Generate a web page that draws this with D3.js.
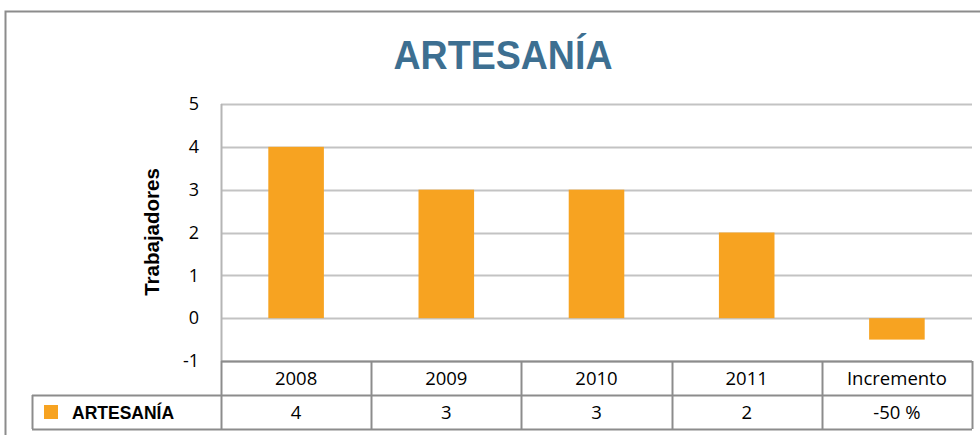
<!DOCTYPE html>
<html>
<head>
<meta charset="utf-8">
<script src="https://cdn.jsdelivr.net/npm/d3@7"></script>
<style>
  body { margin: 0; background: #fff; }
  svg { display: block; }
</style>
</head>
<body>
<svg id="chart" width="980" height="435"></svg>
<script>
"use strict";

// Datos
const categories = ["2008", "2009", "2010", "2011", "Incremento"];
const values = [4, 3, 3, 2, -0.5];
const tableLabels = ["4", "3", "3", "2", "-50 %"];
const yTicks = [-1, 0, 1, 2, 3, 4, 5];
const seriesName = "ARTESANÍA";

const width = 980;
const height = 435;
const plot = { left: 221, right: 972, top: 104, bottom: 361 };
const rowH = 34;

const svg = d3.select("#chart");
const font = "'Open Sans', Lato, sans-serif";

// Marco exterior
svg.append("rect")
  .attr("x", 5.5).attr("y", 11.5)
  .attr("width", width).attr("height", height)
  .attr("fill", "none").attr("stroke", "#8c8c8c").attr("stroke-width", 2);

// Título
svg.append("text")
  .attr("x", 503).attr("y", 69)
  .attr("text-anchor", "middle")
  .attr("font-family", "'Liberation Sans Narrow', 'Arial Narrow', 'Liberation Sans', sans-serif")
  .attr("font-weight", "bold")
  .attr("font-size", 40)
  .attr("textLength", 219)
  .attr("lengthAdjust", "spacingAndGlyphs")
  .attr("fill", "#3d6f91")
  .text(seriesName);

// Escalas
const x = d3.scaleBand()
  .domain(categories)
  .range([plot.left, plot.right]);

const y = d3.scaleLinear()
  .domain([-1, 5])
  .range([plot.bottom, plot.top]);

// Rejilla
svg.append("g")
  .selectAll("line")
  .data(yTicks)
  .join("line")
  .attr("x1", plot.left).attr("x2", plot.right)
  .attr("y1", (d) => Math.round(y(d)) + 0.5)
  .attr("y2", (d) => Math.round(y(d)) + 0.5)
  .attr("stroke", "#c3c3c3").attr("stroke-width", 2);

// Eje Y
const yAxis = svg.append("g")
  .attr("transform", `translate(${plot.left},0)`)
  .call(d3.axisLeft(y).tickValues(yTicks).tickSize(0).tickPadding(22).tickFormat((d) => String(d)));
yAxis.select(".domain").remove();
yAxis.selectAll("text")
  .attr("font-family", font)
  .attr("font-size", 18)
  .attr("fill", "#000");

svg.append("line")
  .attr("x1", plot.left + 0.5).attr("x2", plot.left + 0.5)
  .attr("y1", plot.top).attr("y2", plot.bottom)
  .attr("stroke", "#b5b5b5").attr("stroke-width", 2);

// Título eje Y
svg.append("text")
  .attr("transform", `translate(159,232) rotate(-90)`)
  .attr("text-anchor", "middle")
  .attr("font-family", "'Liberation Sans', Arial, sans-serif")
  .attr("font-weight", "bold")
  .attr("font-size", 20.5)
  .attr("fill", "#000")
  .text("Trabajadores");

// Barras
const barW = x.bandwidth() * 0.37;
svg.append("g")
  .selectAll("rect")
  .data(values)
  .join("rect")
  .attr("x", (d, i) => x(categories[i]) + (x.bandwidth() - barW) / 2)
  .attr("y", (d) => y(Math.max(0, d)))
  .attr("width", barW)
  .attr("height", (d) => Math.abs(y(d) - y(0)))
  .attr("fill", "#f7a321");

// Tabla de datos
const table = svg.append("g");
const stroke = "#8c8c8c";
const legendLeft = 32;
const r1 = plot.bottom, r2 = plot.bottom + rowH, r3 = plot.bottom + 2 * rowH;

// líneas horizontales
table.append("line").attr("x1", plot.left).attr("x2", plot.right).attr("y1", r1 + 0.5).attr("y2", r1 + 0.5);
table.append("line").attr("x1", legendLeft).attr("x2", plot.right).attr("y1", r2 + 0.5).attr("y2", r2 + 0.5);
table.append("line").attr("x1", legendLeft).attr("x2", plot.right).attr("y1", r3 + 0.5).attr("y2", r3 + 0.5);
// verticales
table.append("line").attr("x1", legendLeft + 0.5).attr("x2", legendLeft + 0.5).attr("y1", r2).attr("y2", r3);
table.append("line").attr("x1", plot.left + 0.5).attr("x2", plot.left + 0.5).attr("y1", r1).attr("y2", r3);
table.selectAll("line.col")
  .data(categories)
  .join("line")
  .attr("class", "col")
  .attr("x1", (d) => Math.round(x(d) + x.bandwidth()) + 0.5)
  .attr("x2", (d) => Math.round(x(d) + x.bandwidth()) + 0.5)
  .attr("y1", r1).attr("y2", r3);
table.selectAll("line").attr("stroke", stroke).attr("stroke-width", 2);

table.selectAll("text.head")
  .data(categories)
  .join("text")
  .attr("class", "head")
  .attr("x", (d) => x(d) + x.bandwidth() / 2)
  .attr("y", r1 + 24)
  .attr("text-anchor", "middle")
  .attr("font-family", font)
  .attr("font-size", 18.5)
  .text((d) => d);

table.selectAll("text.val")
  .data(tableLabels)
  .join("text")
  .attr("class", "val")
  .attr("x", (d, i) => x(categories[i]) + x.bandwidth() / 2)
  .attr("y", r2 + 24)
  .attr("text-anchor", "middle")
  .attr("font-family", font)
  .attr("font-size", 18.5)
  .text((d) => d);

// Leyenda
table.append("rect")
  .attr("x", 44).attr("y", r2 + 10)
  .attr("width", 14).attr("height", 14)
  .attr("fill", "#f7a321");
table.append("text")
  .attr("x", 72).attr("y", r2 + 24)
  .attr("font-family", "'Liberation Sans', Arial, sans-serif")
  .attr("font-weight", "bold")
  .attr("font-size", 17.5)
  .text(seriesName);
</script>
</body>
</html>
